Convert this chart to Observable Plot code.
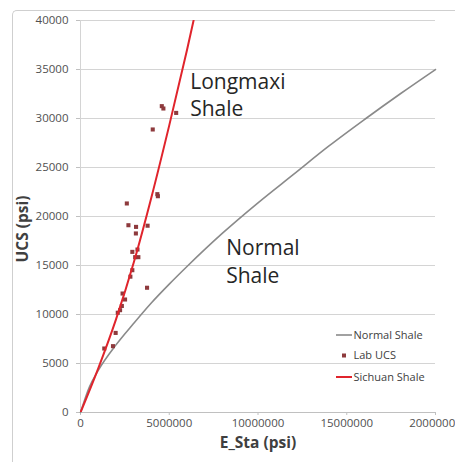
<!DOCTYPE html>
<html><head><meta charset="utf-8">
<script src="https://cdn.jsdelivr.net/npm/d3@7"></script>
<script src="https://cdn.jsdelivr.net/npm/@observablehq/plot@0.6"></script>
<style>
html,body{margin:0;padding:0;background:#fff;overflow:hidden;}
#wrap{position:relative;width:455px;height:462px;overflow:hidden;}
#frame{position:absolute;left:12px;top:10px;width:470px;height:480px;border-left:1px solid #cfcfcf;border-top:1px solid #cfcfcf;border-top-left-radius:5px;}
#chart{position:absolute;left:0;top:0;}
#legend{position:absolute;left:0;top:0;pointer-events:none;}
</style></head><body>
<div id="wrap"><div id="frame"></div><div id="chart"></div><svg id="legend" width="455" height="462"></svg></div>
<script>
// Lab UCS measurements
const labE   = [4.58e6, 4.67e6, 5.39e6, 4.07e6, 4.33e6, 4.36e6, 2.61e6, 2.70e6, 3.13e6, 3.78e6, 3.12e6, 2.92e6, 3.21e6, 3.26e6, 3.08e6, 2.92e6, 2.81e6, 3.75e6, 2.37e6, 2.51e6, 2.33e6, 2.23e6, 2.10e6, 1.98e6, 1.83e6, 1.34e6];
const labUCS = [31260, 31020, 30570, 28880, 22280, 22070, 21330, 19110, 18940, 19060, 18270, 16390, 16630, 15850, 15850, 14520, 13860, 12730, 12140, 11530, 10870, 10440, 10180, 8120, 6770, 6530];
// Normal Shale curve
const normalE   = [0, 0.5e6, 1e6, 2e6, 3e6, 4e6, 5e6, 6e6, 8e6, 10e6, 12e6, 14e6, 16e6, 18e6, 20e6];
const normalUCS = [0, 2600, 4300, 6900, 9100, 11200, 13100, 14900, 18300, 21400, 24300, 27200, 29900, 32500, 35000];
// Sichuan Shale curve
const sichuanE   = [0, 1e6, 2e6, 3e6, 4e6, 5e6, 6e6, 6.37e6];
const sichuanUCS = [0, 4500, 9500, 15300, 22000, 29300, 37000, 40000];
// ticks
const xTicks = [0, 5000000, 10000000, 15000000, 20000000];
const yTicks = [0, 5000, 10000, 15000, 20000, 25000, 30000, 35000, 40000];
// legend
const legendLabels = ["Normal Shale", "Lab UCS", "Sichuan Shale"];

const lab = labE.map((e, i) => ({e, u: labUCS[i]}));
const normal = normalE.map((e, i) => ({e, u: normalUCS[i]}));
const sichuan = sichuanE.map((e, i) => ({e, u: sichuanUCS[i]}));

const fmt = d3.format("d");
const font = "'Open Sans', sans-serif";

const chart = Plot.plot({
  width: 455, height: 462,
  marginLeft: 80, marginRight: 20, marginTop: 20, marginBottom: 50,
  style: {fontFamily: font, fontSize: "11px", background: "transparent", overflow: "visible"},
  x: {domain: [0, 20000000]},
  y: {domain: [0, 40000]},
  marks: [
    Plot.ruleY(yTicks, {stroke: "#d4d4d4", strokeWidth: 1}),
    Plot.ruleX([0], {stroke: "#d4d4d4", strokeWidth: 1}),
    Plot.ruleY([0], {stroke: "#c0c0c0", strokeWidth: 1}),
    Plot.axisX(xTicks, {tickFormat: fmt, tickSize: 3, tickPadding: 3, stroke: "#c0c0c0", fill: "#505050", fontSize: 11.5, label: null}),
    Plot.axisY(yTicks, {tickFormat: fmt, tickSize: 4, tickPadding: 8, stroke: "#c0c0c0", fill: "#505050", fontSize: 11.5, label: null}),
    Plot.line(normal, {x: "e", y: "u", stroke: "#8a8a8a", strokeWidth: 1.6, curve: "monotone-x"}),
    Plot.dot(lab, {x: "e", y: "u", symbol: "square", r: 2.3, fill: "#8e3a3d", stroke: "none"}),
    Plot.line(sichuan, {x: "e", y: "u", stroke: "#e0242c", strokeWidth: 2, curve: "monotone-x", clip: true}),
    Plot.text(["Longmaxi\nShale"], {x: 6.18e6, y: 35000, text: d => d, textAnchor: "start", lineAnchor: "top", fontSize: 21, lineHeight: 1.3, fill: "#262626"}),
    Plot.text(["Normal\nShale"], {x: 8.21e6, y: 18000, text: d => d, textAnchor: "start", lineAnchor: "top", fontSize: 21, lineHeight: 1.3, fill: "#262626"}),
    Plot.text(["E_Sta (psi)"], {frameAnchor: "bottom", dy: 35, text: d => d, fontSize: 15.5, fontWeight: "bold", fill: "#404040"})
  ]
});
document.getElementById("chart").appendChild(chart);

// overlay: y-axis title and legend (legend inside the plot area, no background)
const lg = d3.select("#legend").attr("font-family", font).attr("fill", "#404040");
lg.append("text").attr("transform", "translate(23,229) rotate(-90)")
  .attr("text-anchor", "middle").attr("dy", "0.35em")
  .attr("font-size", 15.5).attr("font-weight", "bold").text("UCS (psi)");
const rows = [335, 355.5, 377];
lg.append("line").attr("x1", 336).attr("x2", 352).attr("y1", rows[0]).attr("y2", rows[0]).attr("stroke", "#8a8a8a").attr("stroke-width", 1.6);
lg.append("rect").attr("x", 342).attr("y", rows[1] - 2).attr("width", 4).attr("height", 4).attr("fill", "#8e3a3d");
lg.append("line").attr("x1", 336).attr("x2", 352).attr("y1", rows[2]).attr("y2", rows[2]).attr("stroke", "#e0242c").attr("stroke-width", 2);
legendLabels.forEach((t, i) => {
  lg.append("text").attr("x", 353.5).attr("y", rows[i]).attr("dy", "0.35em").attr("font-size", 11).text(t);
});
</script>
</body></html>
